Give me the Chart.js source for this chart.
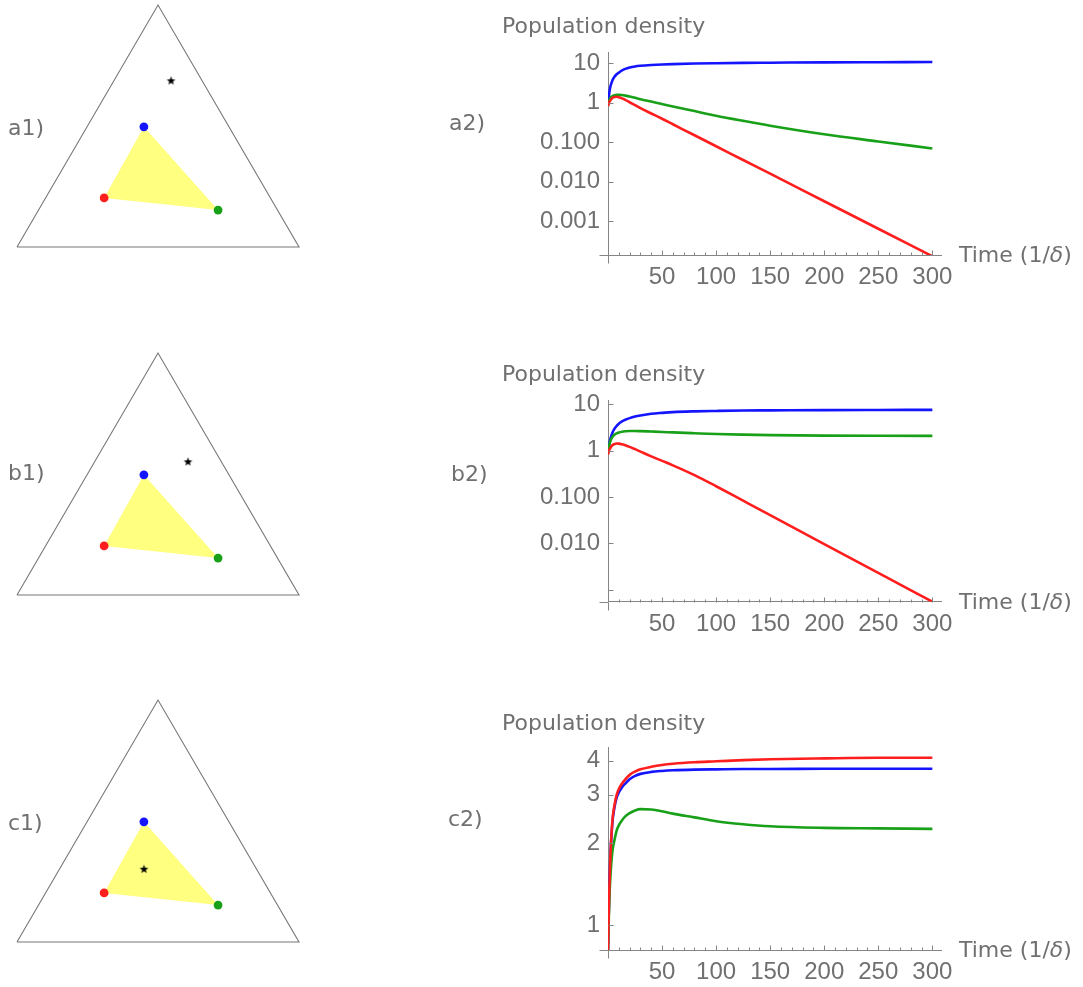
<!DOCTYPE html>
<html>
<head>
<meta charset="utf-8">
<script src="https://cdn.jsdelivr.net/npm/chart.js@4.4.1/dist/chart.umd.min.js"></script>
<style>
  body { margin: 0; background: #fff; width: 1083px; height: 987px; position: relative; overflow: hidden;
         font-family: "DejaVu Sans", sans-serif; color: #707070; }
  canvas { position: absolute; }
  .lbl { position: absolute; font-size: 22px; line-height: 24px; white-space: nowrap; }
</style>
</head>
<body>
<canvas id="a1" width="320" height="260" style="left:0;top:0"></canvas>
<canvas id="b1" width="320" height="260" style="left:0;top:340px"></canvas>
<canvas id="c1" width="320" height="260" style="left:0;top:690px"></canvas>
<canvas id="a2" width="643" height="300" style="left:440px;top:0"></canvas>
<canvas id="b2" width="643" height="300" style="left:440px;top:345px"></canvas>
<canvas id="c2" width="643" height="292" style="left:440px;top:695px"></canvas>

<div class="lbl" style="left:8px;top:116px">a1)</div>
<div class="lbl" style="left:8px;top:461px">b1)</div>
<div class="lbl" style="left:8px;top:811px">c1)</div>
<div class="lbl" style="left:449px;top:111px">a2)</div>
<div class="lbl" style="left:451px;top:462px">b2)</div>
<div class="lbl" style="left:448px;top:807px">c2)</div>
<div class="lbl" style="left:502px;top:14px">Population density</div>
<div class="lbl" style="left:502px;top:362px">Population density</div>
<div class="lbl" style="left:502px;top:711px">Population density</div>
<div class="lbl" style="left:959px;top:243px">Time (1/<i>δ</i>)</div>
<div class="lbl" style="left:959px;top:590px">Time (1/<i>δ</i>)</div>
<div class="lbl" style="left:959px;top:938px">Time (1/<i>δ</i>)</div>

<script>
// simplex panels: x along the base, y up from the base (base length = 1)
const outline = [[0, 0], [1, 0], [0.5, 0.858], [0, 0]];
const pointRed = [0.309, 0.174];
const pointGreen = [0.713, 0.131];
const pointBlue = [0.450, 0.426];
const starA = [0.546, 0.589];
const starB = [0.606, 0.472];
const starC = [0.450, 0.258];

// time courses
const times  = [0, 1, 2, 4, 6, 8, 10, 13, 16, 20, 25, 30, 40, 50, 60, 80, 100, 125, 150, 200, 250, 300];
const blueA  = [0.9, 1.6, 2.4, 3.6, 4.5, 5.2, 5.7, 6.5, 7.1, 7.7, 8.2, 8.5, 8.9, 9.2, 9.4, 9.7, 9.9, 10.1, 10.2, 10.4, 10.5, 10.6];
const greenA = [0.85, 1.1, 1.28, 1.45, 1.54, 1.58, 1.58, 1.55, 1.5, 1.42, 1.32, 1.22, 1.06, 0.92, 0.8, 0.61, 0.465, 0.345, 0.26, 0.158, 0.104, 0.069];
const redA   = [0.82, 1.0, 1.12, 1.3, 1.38, 1.4, 1.36, 1.28, 1.17, 1.02, 0.86, 0.72, 0.53, 0.39, 0.283, 0.149, 0.0787, 0.0353, 0.0159, 0.0032, 0.000645, 0.00013];
const blueB  = [0.9, 1.3, 1.7, 2.4, 2.95, 3.4, 3.8, 4.25, 4.6, 5.0, 5.4, 5.7, 6.2, 6.5, 6.75, 7.0, 7.15, 7.3, 7.35, 7.45, 7.5, 7.55];
const greenB = [0.9, 1.25, 1.55, 1.95, 2.2, 2.35, 2.45, 2.55, 2.6, 2.63, 2.64, 2.62, 2.57, 2.52, 2.46, 2.36, 2.27, 2.2, 2.15, 2.1, 2.08, 2.07];
const redB   = [0.82, 1.0, 1.12, 1.3, 1.38, 1.42, 1.41, 1.36, 1.3, 1.2, 1.07, 0.95, 0.75, 0.6, 0.48, 0.295, 0.17, 0.083, 0.0405, 0.0096, 0.0023, 0.00055];
const blueC  = [0.81, 1.25, 1.7, 2.35, 2.7, 2.93, 3.06, 3.2, 3.3, 3.42, 3.52, 3.58, 3.64, 3.67, 3.69, 3.71, 3.72, 3.73, 3.73, 3.74, 3.74, 3.74];
const greenC = [0.81, 1.15, 1.45, 1.85, 2.05, 2.22, 2.32, 2.42, 2.5, 2.57, 2.63, 2.66, 2.65, 2.61, 2.56, 2.48, 2.4, 2.34, 2.3, 2.27, 2.26, 2.25];
const redC   = [0.81, 1.25, 1.7, 2.4, 2.75, 3.0, 3.15, 3.3, 3.42, 3.55, 3.65, 3.72, 3.8, 3.86, 3.9, 3.95, 3.98, 4.02, 4.05, 4.08, 4.1, 4.1];

const xTicks = [50, 100, 150, 200, 250, 300];
const xTickLabels = ['50', '100', '150', '200', '250', '300'];
const yTicksA = [0.001, 0.01, 0.1, 1, 10];
const yTickLabelsA = ['0.001', '0.010', '0.100', '1', '10'];
const yTicksB = [0.001, 0.01, 0.1, 1, 10];
const yTickLabelsB = ['', '0.010', '0.100', '1', '10'];
const yTicksC = [1, 2, 3, 4];
const yTickLabelsC = ['1', '2', '3', '4'];

const BLUE = '#1414ff', GREEN = '#19a019', RED = '#ff1e1e';
const AXIS = '#858585', TEXT = '#707070';
const FONT = { family: 'Liberation Sans', size: 24 };

Chart.defaults.animation = false;
Chart.defaults.plugins.legend.display = false;
Chart.defaults.plugins.tooltip.enabled = false;

function xy(p) { return { x: p[0], y: p[1] }; }

function makeStar(r) {
  var c = document.createElement('canvas');
  c.width = c.height = 2 * r + 2;
  var g = c.getContext('2d');
  g.fillStyle = '#000';
  g.beginPath();
  for (var i = 0; i < 10; i++) {
    var rr = i % 2 ? r * 0.42 : r;
    var ang = -Math.PI / 2 + i * Math.PI / 5;
    g.lineTo(r + 1 + rr * Math.cos(ang), r + 1 + rr * Math.sin(ang));
  }
  g.closePath();
  g.fill();
  return c;
}
var starImg = makeStar(4.6);

function simplex(id, star, padTop, padBottom) {
  new Chart(document.getElementById(id), {
    type: 'scatter',
    data: {
      datasets: [
        { data: [pointRed, pointGreen, pointBlue].map(xy), pointRadius: 4.4, pointBorderWidth: 0,
          pointBackgroundColor: [RED, GREEN, BLUE], order: 0, clip: false },
        { data: [xy(star)], pointStyle: starImg, order: 0, clip: false },
        { data: outline.map(xy), showLine: true, pointRadius: 0, borderColor: '#777', borderWidth: 1.1,
          order: 2, clip: false },
        { data: [pointRed, pointGreen, pointBlue, pointRed].map(xy), showLine: true, pointRadius: 0,
          borderWidth: 0, fill: 'shape', backgroundColor: '#ffff80', order: 3, clip: false }
      ]
    },
    options: {
      responsive: false, devicePixelRatio: 1,
      layout: { padding: { left: 17, right: 21, top: padTop, bottom: padBottom } },
      scales: {
        x: { type: 'linear', min: 0, max: 1, display: false },
        y: { type: 'linear', min: 0, max: 0.858, display: false }
      }
    }
  });
}

// Mathematica style: inward ticks and short stubs past the origin
var innerTicks = {
  id: 'innerTicks',
  afterDraw: function(chart) {
    var ctx = chart.ctx, a = chart.chartArea, x = chart.scales.x, y = chart.scales.y;
    ctx.save();
    ctx.strokeStyle = AXIS;
    ctx.lineWidth = 1;
    ctx.beginPath();
    var bx = Math.round(a.left) + 0.5, by = Math.round(a.bottom) + 0.5;
    ctx.moveTo(bx - 9, by); ctx.lineTo(bx, by);
    ctx.moveTo(bx, by); ctx.lineTo(bx, by + 8);
    for (var t = 10; t <= 300; t += 10) {
      var px = Math.round(x.getPixelForValue(t)) + 0.5;
      ctx.moveTo(px, by); ctx.lineTo(px, by - (t % 50 === 0 ? 5 : 3));
    }
    y.ticks.forEach(function(tk) {
      var py = Math.round(y.getPixelForValue(tk.value)) + 0.5;
      ctx.moveTo(bx, py); ctx.lineTo(bx + 5, py);
    });
    ctx.stroke();
    ctx.restore();
  }
};

function series(vals, color, order) {
  return {
    data: times.map(function(t, i) { return { x: t, y: vals[i] }; }),
    borderColor: color, borderWidth: 2.6, pointRadius: 0, cubicInterpolationMode: 'monotone',
    order: order
  };
}

function timeChart(id, blue, green, red, yMin, yMax, yTicks, yLabels, padTop, xHeight) {
  new Chart(document.getElementById(id), {
    type: 'line',
    data: { datasets: [series(red, RED, 0), series(green, GREEN, 1), series(blue, BLUE, 2)] },
    options: {
      responsive: false, devicePixelRatio: 1,
      layout: { padding: { left: 0, right: 142, top: padTop, bottom: 0 } },
      scales: {
        x: {
          type: 'linear', min: 0, max: 308,
          afterBuildTicks: function(s) { s.ticks = xTicks.map(function(v) { return { value: v }; }); },
          afterFit: function(s) { s.height = xHeight; },
          ticks: { callback: function(v, i) { return xTickLabels[i]; }, color: TEXT, font: FONT,
                   padding: 8, maxRotation: 0, autoSkip: false },
          grid: { display: false, drawTicks: false },
          border: { display: true, color: AXIS, width: 1 }
        },
        y: {
          type: 'logarithmic', min: yMin, max: yMax,
          afterBuildTicks: function(s) { s.ticks = yTicks.map(function(v) { return { value: v }; }); },
          afterFit: function(s) { s.width = 168; },
          ticks: { callback: function(v, i) { return yLabels[i]; }, color: TEXT, font: FONT,
                   padding: 8, autoSkip: false },
          grid: { display: false, drawTicks: false },
          border: { display: true, color: AXIS, width: 1 }
        }
      }
    },
    plugins: [innerTicks]
  });
}

simplex('a1', starA, 5, 13);
simplex('b1', starB, 13, 5);
simplex('c1', starC, 10, 8);

timeChart('a2', blueA, greenA, redA, 0.00014, 19, yTicksA, yTickLabelsA, 52, 45);
timeChart('b2', blueB, greenB, redB, 0.00055, 12.3, yTicksB, yTickLabelsB, 55, 43.3);
timeChart('c2', blueC, greenC, redC, 0.81, 4.48, yTicksC, yTickLabelsC, 52.3, 37);
</script>
</body>
</html>
